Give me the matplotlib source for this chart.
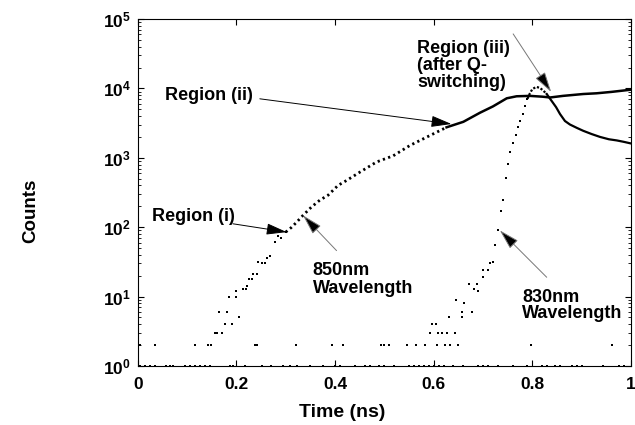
import math
import matplotlib
matplotlib.use("Agg")
import matplotlib.pyplot as plt
from matplotlib.ticker import FixedLocator, FuncFormatter, LogLocator, NullFormatter

plt.rcParams['font.family'] = ['Liberation Sans', 'DejaVu Sans']
plt.rcParams['font.weight'] = 'bold'
plt.rcParams['mathtext.fontset'] = 'custom'
plt.rcParams['mathtext.rm'] = 'Liberation Sans:bold'
plt.rcParams['mathtext.bf'] = 'Liberation Sans:bold'

# background counts (single photons)
bg1_t = [0.005, 0.015, 0.025, 0.035, 0.058, 0.065, 0.072, 0.095, 0.105, 0.116, 0.126,
         0.136, 0.146, 0.187, 0.193, 0.217, 0.251, 0.271, 0.295, 0.308, 0.322, 0.349,
         0.376, 0.40, 0.41, 0.44, 0.46, 0.47, 0.49, 0.50, 0.52, 0.55, 0.56, 0.57, 0.58,
         0.59, 0.60, 0.61, 0.62, 0.64, 0.66, 0.69, 0.70, 0.71, 0.73, 0.76, 0.79, 0.82,
         0.83, 0.845, 0.856, 0.88, 0.89, 0.90, 0.943, 0.975, 0.985]
bg2_t = [0.004, 0.036, 0.116, 0.142, 0.149, 0.237, 0.241, 0.320, 0.393, 0.416, 0.494,
         0.500, 0.510, 0.546, 0.564, 0.582, 0.606, 0.623, 0.633, 0.650, 0.797, 0.961]

# 850nm wavelength
t850_low = [0.156, 0.161, 0.170, 0.176, 0.191, 0.206, 0.165, 0.181, 0.185, 0.199, 0.200,
            0.214, 0.220, 0.222, 0.226, 0.231, 0.234, 0.241, 0.244, 0.251, 0.257, 0.262,
            0.268, 0.278, 0.285, 0.290, 0.300]
c850_low = [3, 3, 3, 4, 4, 5, 6, 6, 10, 10, 12, 13, 13, 14, 18, 18, 21, 21, 32, 30, 30,
            36, 39, 61, 75, 70, 85]
t850_mid = [0.300, 0.312, 0.322, 0.335, 0.352, 0.369, 0.386, 0.406, 0.423, 0.450, 0.484,
            0.518, 0.552, 0.592, 0.626]
c850_mid = [85, 100, 118, 148, 195, 245, 290, 400, 470, 620, 870, 1070, 1510, 2090, 2750]
t850_top = [0.626, 0.660, 0.694, 0.720, 0.748, 0.768, 0.795, 0.820, 0.836, 0.862, 0.903,
            0.930, 0.960, 0.998]
c850_top = [2750, 3300, 4470, 5500, 7200, 7700, 7800, 7600, 7400, 7800, 8300, 8500,
            8900, 9550]

# 830nm wavelength
t830_low = [0.592, 0.609, 0.616, 0.626, 0.643, 0.596, 0.604, 0.631, 0.658, 0.657, 0.677,
            0.661, 0.646, 0.672, 0.682, 0.688, 0.690, 0.700, 0.700, 0.710, 0.715, 0.720,
            0.724, 0.731, 0.736, 0.741, 0.746, 0.750, 0.755, 0.760, 0.766, 0.771, 0.775,
            0.780, 0.785, 0.790]
c830_low = [3, 3, 3, 3, 3, 4, 4, 5, 5, 6, 6, 8, 9, 15, 13, 15, 12, 19, 24, 24, 30, 32,
            55, 91, 170, 245, 513, 813, 1200, 1660, 2140, 2750, 3390, 4270, 5620, 7080]
t830_top = [0.790, 0.795, 0.800, 0.808, 0.815, 0.822, 0.829, 0.839, 0.848, 0.856, 0.866,
            0.876, 0.890, 0.903, 0.920, 0.937, 0.955, 0.971, 0.985, 0.998]
c830_top = [7080, 8500, 9800, 10500, 10200, 9300, 8300, 6600, 5370, 4270, 3390, 3020,
            2700, 2450, 2200, 2000, 1850, 1780, 1700, 1620]

fig = plt.figure(figsize=(6.35, 4.25), dpi=100)
ax = fig.add_axes([0.2169, 0.1388, 0.7769, 0.8165])

dot = dict(ls='none', marker='s', ms=1.8, color='black', mew=0)
ax.plot(bg1_t, [1] * len(bg1_t), clip_on=False, **dot)
ax.plot(bg2_t, [2] * len(bg2_t), **dot)
ax.plot(t850_low, c850_low, **dot)
ax.plot(t850_mid, c850_mid, color='black', lw=2.0, ls=(0, (0.8, 1.2)))
ax.plot(t850_top, c850_top, color='black', lw=1.8)
ax.plot(t830_low, c830_low, **dot)
ax.plot(t830_top[:7], c830_top[:7], color='black', lw=1.6, ls=(0, (1, 0.8)))
ax.plot(t830_top[6:], c830_top[6:], color='black', lw=1.6)

ax.set_yscale('log')
ax.set_xlim(0, 1)
ax.set_ylim(1, 1e5)
ax.set_xticks([0, 0.2, 0.4, 0.6, 0.8, 1])
ax.set_xticklabels(['0', '0.2', '0.4', '0.6', '0.8', '1'])
ax.yaxis.set_major_locator(FixedLocator([1, 10, 100, 1e3, 1e4, 1e5]))
ax.yaxis.set_major_formatter(FuncFormatter(lambda v, p: r'$\mathbf{10^{%d}}$' % round(math.log10(v))))
ax.yaxis.set_minor_locator(LogLocator(base=10, subs=range(2, 10)))
ax.yaxis.set_minor_formatter(NullFormatter())
ax.tick_params(which='both', direction='in', top=True, right=True, labelsize=12.5)
ax.tick_params(which='major', length=4, width=0.8)
ax.tick_params(which='minor', length=2, width=0.6)
ax.tick_params(axis='x', pad=8)
ax.tick_params(axis='y', pad=5)
for s in ax.spines.values():
    s.set_linewidth(0.8)

ax.set_xlabel('Time (ns)', fontsize=14, fontweight='bold')
ax.xaxis.set_label_coords(0.414, -0.110)
ax.set_ylabel('Counts', fontsize=13.5, fontweight='bold')
ax.yaxis.set_label_coords(-0.200, 0.447)

# annotations
txt = dict(fontsize=13, fontweight='bold', ha='left', va='center')
ax.text(0.055, 7830, 'Region (ii)', **txt)
ax.text(0.028, 144, 'Region (i)', **txt)
ax.text(0.566, 21100, 'Region (iii)\n(after Q-\nswitching)', linespacing=1.0, **txt)
ax.text(0.355, 17.5, '850nm\nWavelength', linespacing=1.05, **txt)
ax.text(0.779, 7.4, '830nm\nWavelength', linespacing=0.95, **txt)

dark = dict(arrowstyle='-|>,head_length=0.9,head_width=0.25', fc='black', ec='black',
            lw=0.7, shrinkA=0, shrinkB=0, mutation_scale=14)
grey = dict(arrowstyle='-|>,head_length=0.9,head_width=0.25', fc='black', ec='#777777',
            lw=0.7, shrinkA=0, shrinkB=0, mutation_scale=14)
ax.annotate('', xy=(0.636, 3070), xytext=(0.2475, 7080), arrowprops=dark)
ax.annotate('', xy=(0.838, 8900), xytext=(0.761, 61000), arrowprops=grey)
ax.annotate('', xy=(0.302, 85), xytext=(0.193, 112), arrowprops=dark)
ax.annotate('', xy=(0.335, 148), xytext=(0.403, 46), arrowprops=grey)
ax.annotate('', xy=(0.734, 90), xytext=(0.829, 19), arrowprops=grey)

fig.savefig('out.png', dpi=100)
